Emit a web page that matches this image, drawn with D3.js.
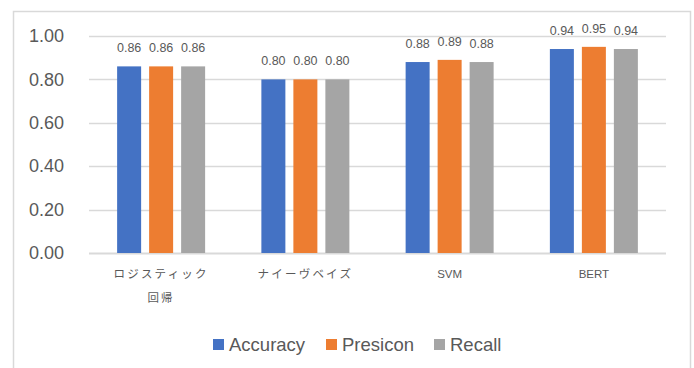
<!DOCTYPE html>
<html>
<head>
<meta charset="utf-8">
<script src="https://cdn.jsdelivr.net/npm/d3@7"></script>
<style>
  html, body { margin: 0; padding: 0; background: #fff; }
  svg { display: block; }
</style>
</head>
<body>
<svg id="chart" width="694" height="368"></svg>
<script>
const categories = [["ロジスティック", "回帰"], ["ナイーヴベイズ"], ["SVM"], ["BERT"]];
const seriesNames = ["Accuracy", "Presicon", "Recall"];
const accuracy = [0.86, 0.80, 0.88, 0.94];
const precision = [0.86, 0.80, 0.89, 0.95];
const recall = [0.86, 0.80, 0.88, 0.94];
const yTicks = [0, 0.2, 0.4, 0.6, 0.8, 1.0];
const colors = ["#4472C4", "#ED7D31", "#A5A5A5"];

(function () {
  const series = [accuracy, precision, recall];
  const svg = d3.select("#chart");
  const textColor = "#595959";
  const font = "'Liberation Sans', Arial, sans-serif";

  // outer chart frame (bottom edge runs past the canvas)
  svg.append("rect")
    .attr("x", 13.5).attr("y", 11.5)
    .attr("width", 677).attr("height", 400)
    .attr("fill", "none").attr("stroke", "#D9D9D9").attr("stroke-width", 1.5);

  const plotLeft = 89, plotRight = 666, plotTop = 36, plotBottom = 253;
  const x = d3.scaleBand().domain(d3.range(categories.length)).range([plotLeft, plotRight]);
  const y = d3.scaleLinear().domain([0, 1]).range([plotBottom, plotTop]);
  const inner = d3.scaleBand().domain(d3.range(series.length))
    .range([-44, 44]).paddingInner(0.25).paddingOuter(0);

  // gridlines
  svg.append("g").selectAll("line").data(yTicks).join("line")
    .attr("x1", plotLeft).attr("x2", plotRight)
    .attr("y1", d => Math.round(y(d)) + 0.5).attr("y2", d => Math.round(y(d)) + 0.5)
    .attr("stroke", "#D9D9D9").attr("stroke-width", d => d === 0 ? 2 : 1.5);

  // y axis labels
  const yAxis = svg.append("g").attr("transform", "translate(64,0)")
    .call(d3.axisLeft(y).tickValues(yTicks).tickFormat(d3.format(".2f")).tickSize(0).tickPadding(0));
  yAxis.select(".domain").remove();
  yAxis.selectAll("text")
    .attr("fill", textColor).attr("font-family", font).attr("font-size", 18);

  // bars and value labels
  const groups = svg.append("g").selectAll("g").data(series).join("g")
    .attr("fill", (d, i) => colors[i]);
  groups.each(function (vals, si) {
    const g = d3.select(this);
    g.selectAll("rect").data(vals).join("rect")
      .attr("x", (d, ci) => x(ci) + x.bandwidth() / 2 + inner(si))
      .attr("width", inner.bandwidth())
      .attr("y", d => y(d))
      .attr("height", d => y(0) - y(d));
    g.selectAll("text").data(vals).join("text")
      .attr("x", (d, ci) => x(ci) + x.bandwidth() / 2 + inner(si) + inner.bandwidth() / 2)
      .attr("y", d => y(d) - 14)
      .attr("text-anchor", "middle")
      .attr("fill", textColor).attr("font-family", font).attr("font-size", 12.5)
      .text(d => d3.format(".2f")(d));
  });

  // category labels
  svg.append("g").selectAll("text").data(categories).join("text")
    .attr("x", (d, i) => x(i) + x.bandwidth() / 2)
    .attr("y", 278)
    .attr("text-anchor", "middle")
    .attr("fill", textColor)
    .attr("font-family", "'Liberation Sans', 'Noto Sans CJK JP', sans-serif")
    .attr("font-size", 11.5)
    .each(function (lines) {
      const t = d3.select(this);
      t.selectAll("tspan").data(lines).join("tspan")
        .attr("x", t.attr("x"))
        .attr("dy", (l, k) => k === 0 ? 0 : 24)
        .attr("letter-spacing", l => /[^\x00-\x7F]/.test(l) ? 2.2 : 0)
        .text(l => l);
    });

  // legend
  const legendX = [213, 326, 434];
  const legend = svg.append("g").selectAll("g").data(seriesNames).join("g")
    .attr("transform", (d, i) => `translate(${legendX[i]},339)`);
  legend.append("rect").attr("width", 11).attr("height", 11)
    .attr("fill", (d, i) => colors[i]);
  legend.append("text").attr("x", 16).attr("y", 11.5)
    .attr("fill", textColor).attr("font-family", font).attr("font-size", 18.5)
    .text(d => d);
})();
</script>
</body>
</html>
